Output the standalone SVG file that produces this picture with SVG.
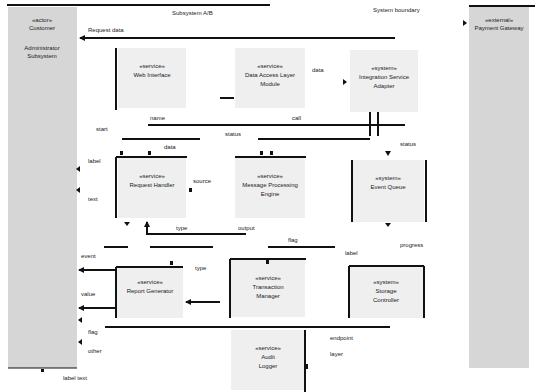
<svg xmlns="http://www.w3.org/2000/svg" width="535" height="392" viewBox="0 0 535 392">
<defs>
<marker id="ah" viewBox="0 0 6 6" refX="5" refY="3" markerWidth="3" markerHeight="3" orient="auto-start-reverse"><path d="M0,0 L6,3 L0,6 z" fill="#111"/></marker>
<style>
.panel{fill:#d6d6d6;stroke:none}
.box{fill:#efefef;stroke:none}
.ln{stroke:#111;stroke-width:2;fill:none}
.thin{stroke:#111;stroke-width:1.2;fill:none}
.t{font-family:"Liberation Sans",Arial,sans-serif;font-size:6px;fill:#222}
.c{text-anchor:middle}
.dot{fill:#111}
</style>
</defs>
<rect width="535" height="392" fill="#fff"/>
<g id="lane-left">
<rect class="panel" x="8" y="7" width="69" height="361"/>
<line class="thin" x1="8" y1="368" x2="77" y2="368" stroke="#aaa"/>
<text class="t c" x="42" y="22">«actor»</text>
<text class="t c" x="42" y="30">Customer</text>
<text class="t c" x="42" y="50">Administrator</text>
<text class="t c" x="42" y="58">Subsystem</text>
</g>
<g id="lane-right">
<rect class="panel" x="469" y="7" width="60" height="361"/>
<line class="ln" x1="469" y1="6" x2="535" y2="6"/>
<text class="t c" x="499" y="22">«external»</text>
<text class="t c" x="499" y="30">Payment Gateway</text>
</g>
<g id="n1"><rect class="box" x="118" y="48" width="68" height="60"/><text class="t c" x="152" y="68">«service»</text><text class="t c" x="152" y="77">Web Interface</text></g>
<g id="n2"><rect class="box" x="235" y="48" width="70" height="60"/><text class="t c" x="270" y="68">«service»</text><text class="t c" x="270" y="77">Data Access Layer</text><text class="t c" x="270" y="86">Module</text></g>
<g id="n3"><rect class="box" x="350" y="50" width="68" height="62"/><text class="t c" x="384" y="70">«system»</text><text class="t c" x="384" y="79">Integration Service</text><text class="t c" x="384" y="88">Adapter</text></g>
<g id="n4"><rect class="box" x="118" y="158" width="68" height="60"/><text class="t c" x="152" y="178">«service»</text><text class="t c" x="152" y="187">Request Handler</text></g>
<g id="n5"><rect class="box" x="235" y="158" width="70" height="60"/><text class="t c" x="270" y="178">«service»</text><text class="t c" x="270" y="187">Message Processing</text><text class="t c" x="270" y="196">Engine</text></g>
<g id="n6"><rect class="box" x="352" y="160" width="72" height="62"/><text class="t c" x="388" y="180">«system»</text><text class="t c" x="388" y="189">Event Queue</text></g>
<g id="n7"><rect class="box" x="117" y="267" width="66" height="51"/><text class="t c" x="150" y="284">«service»</text><text class="t c" x="150" y="293">Report Generator</text></g>
<g id="n8"><rect class="box" x="231" y="260" width="74" height="57"/><text class="t c" x="268" y="280">«service»</text><text class="t c" x="268" y="289">Transaction</text><text class="t c" x="268" y="298">Manager</text></g>
<g id="n9"><rect class="box" x="349" y="267" width="74" height="51"/><text class="t c" x="386" y="284">«system»</text><text class="t c" x="386" y="293">Storage</text><text class="t c" x="386" y="302">Controller</text></g>
<g id="n10"><rect class="box" x="231" y="330" width="74" height="60"/><text class="t c" x="268" y="350">«service»</text><text class="t c" x="268" y="359">Audit</text><text class="t c" x="268" y="368">Logger</text></g>
<g id="connectors">
<line class="ln" x1="7" y1="5" x2="270" y2="5"/>
<text class="t" x="172" y="15">Subsystem A/B</text>
<text class="t" x="373" y="12">System boundary</text>
<line class="ln" x1="395" y1="38" x2="80" y2="38" marker-end="url(#ah)"/>
<text class="t" x="88" y="32">Request data</text>
<line class="ln" x1="116" y1="48" x2="116" y2="110"/>
<line class="ln" x1="220" y1="98" x2="234" y2="98"/>
<text class="t" x="312" y="72">data</text>
<path class="dot" d="M343,79 L347,82 L343,85 z"/>
<path class="dot" d="M463,20 L467,23 L463,26 z"/>
<line class="ln" x1="148" y1="125" x2="405" y2="125"/>
<text class="t" x="150" y="120">name</text>
<text class="t" x="292" y="120">call</text>
<text class="t" x="96" y="131">start</text>
<line class="ln" x1="370" y1="112" x2="370" y2="136"/>
<line class="ln" x1="378" y1="112" x2="378" y2="136"/>
<line class="ln" x1="122" y1="139" x2="200" y2="139"/>
<line class="ln" x1="258" y1="139" x2="370" y2="139"/>
<text class="t" x="225" y="136">status</text>
<text class="t" x="164" y="149">data</text>
<line class="ln" x1="116" y1="157" x2="187" y2="157"/>
<rect class="dot" x="120" y="151" width="3" height="4"/>
<rect class="dot" x="148" y="151" width="3" height="4"/>
<line class="ln" x1="235" y1="157" x2="306" y2="157"/>
<rect class="dot" x="260" y="151" width="3" height="4"/>
<rect class="dot" x="270" y="151" width="3" height="4"/>
<line class="ln" x1="116" y1="157" x2="116" y2="218"/>
<path class="dot" d="M80,166 L76,169 L80,172 z"/>
<path class="dot" d="M80,187 L76,190 L80,193 z"/>
<text class="t" x="88" y="163">label</text>
<text class="t" x="88" y="201">text</text>
<text class="t" x="193" y="183">source</text>
<rect class="dot" x="189" y="188" width="3" height="4"/>
<path class="dot" d="M124,222 L127,226 L130,222 z"/>
<line class="ln" x1="147" y1="235" x2="147" y2="222" marker-end="url(#ah)"/>
<line class="ln" x1="146" y1="234" x2="246" y2="234"/>
<text class="t" x="176" y="230" fill="#8a6">type</text>
<text class="t" x="238" y="230">output</text>
<line class="ln" x1="352" y1="160" x2="352" y2="222"/>
<line class="ln" x1="426" y1="160" x2="426" y2="222"/>
<path class="dot" d="M385,151 L388,156 L391,151 z"/>
<path class="dot" d="M385,223 L388,227 L391,223 z"/>
<text class="t" x="400" y="146">status</text>
<text class="t" x="400" y="247">progress</text>
<line class="ln" x1="104" y1="247" x2="128" y2="247"/>
<line class="ln" x1="150" y1="247" x2="213" y2="247"/>
<line class="ln" x1="268" y1="247" x2="335" y2="247"/>
<text class="t" x="288" y="242">flag</text>
<text class="t" x="345" y="255">label</text>
<line class="ln" x1="230" y1="259" x2="306" y2="259"/>
<rect class="dot" x="266" y="260" width="3" height="4"/>
<line class="ln" x1="230" y1="259" x2="230" y2="318"/>
<line class="ln" x1="116" y1="267" x2="183" y2="267"/>
<rect class="dot" x="170" y="261" width="3" height="4"/>
<line class="ln" x1="116" y1="267" x2="116" y2="318"/>
<line class="ln" x1="116" y1="270" x2="79" y2="270" marker-end="url(#ah)"/>
<line class="ln" x1="116" y1="308" x2="79" y2="308" marker-end="url(#ah)"/>
<text class="t" x="81" y="258">event</text>
<text class="t" x="81" y="296">value</text>
<text class="t" x="195" y="270">type</text>
<line class="ln" x1="220" y1="302" x2="186" y2="302" marker-end="url(#ah)"/>
<path class="dot" d="M82,317 L78,320 L82,323 z"/>
<path class="dot" d="M82,339 L78,342 L82,345 z"/>
<text class="t" x="88" y="334">flag</text>
<text class="t" x="88" y="353">other</text>
<line class="ln" x1="105" y1="327" x2="390" y2="327"/>
<line class="ln" x1="349" y1="266" x2="424" y2="266"/>
<line class="ln" x1="349" y1="266" x2="349" y2="318"/>
<line class="ln" x1="424" y1="266" x2="424" y2="318"/>
<line class="ln" x1="305" y1="330" x2="305" y2="392"/>
<rect class="dot" x="305" y="364" width="3" height="5"/>
<text class="t" x="330" y="340">endpoint</text>
<text class="t" x="330" y="356">layer</text>
<rect class="dot" x="41" y="369" width="3" height="3"/>
<text class="t" x="63" y="380">label text</text>
</g>
</svg>
